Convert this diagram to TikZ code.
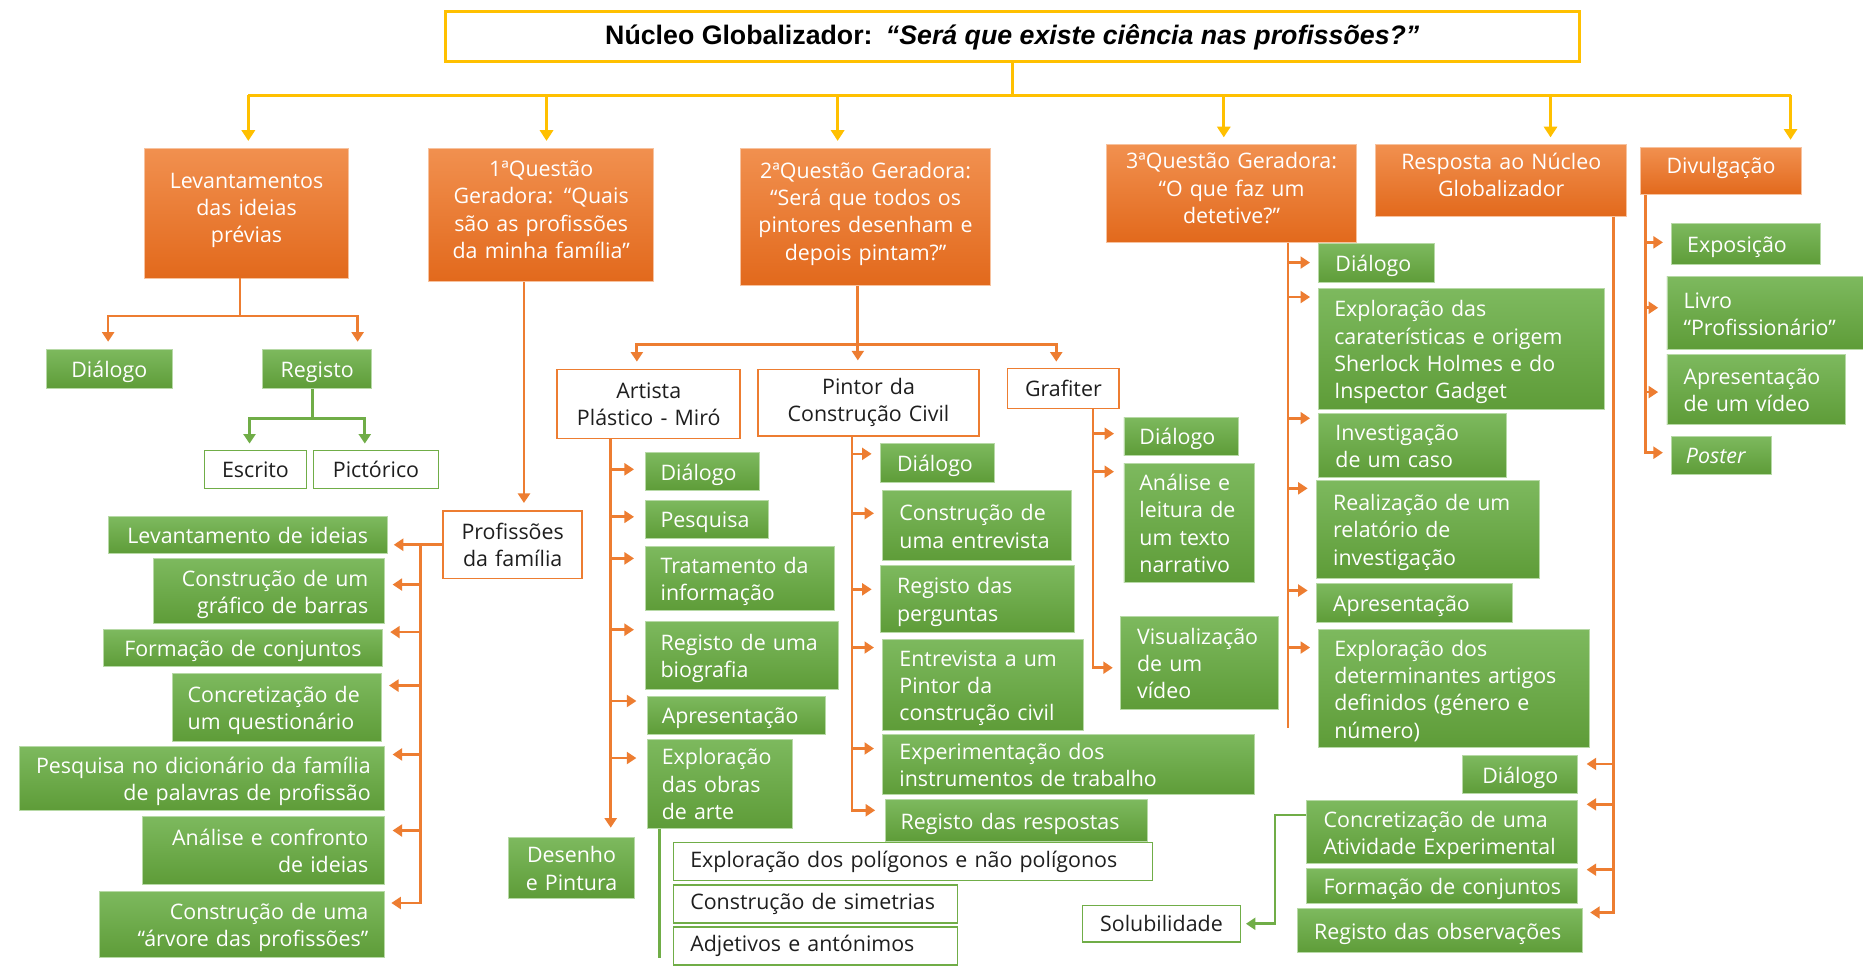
\documentclass[tikz,border=0pt]{standalone}
\usepackage{fontspec}
\setmainfont{Open Sans}
\newfontfamily\titlefont{Liberation Sans}
\usetikzlibrary{arrows.meta,calc}

\definecolor{ocol}{HTML}{ED7D31}
\definecolor{otop}{HTML}{F1904F}
\definecolor{obot}{HTML}{E2691C}
\definecolor{gcol}{HTML}{70AD47}
\definecolor{gtop}{HTML}{7DB95E}
\definecolor{gbot}{HTML}{5E9C38}
\definecolor{ycol}{HTML}{FFC000}
\definecolor{txt}{HTML}{1E1E1E}

\tikzset{
  boxbase/.style={inner ysep=1pt, font=\fontsize{18}{23}\selectfont, line width=0.8pt},
  % struts fixing where the text block sits inside the filled boxes
  lowtext/.style={execute at begin node={\rule{0pt}{19pt}},
                  execute at end node={\rule[-4.5pt]{0pt}{4.5pt}}},
  hightext/.style={execute at begin node={\rule{0pt}{18pt}},
                   execute at end node={\rule[-14pt]{0pt}{14pt}}},
  ob/.style={boxbase, hightext, top color=otop, bottom color=obot, draw=otop!55!white, text=white, align=center},
  gb/.style={boxbase, lowtext, top color=gtop, bottom color=gbot, draw=gtop!55!white, text=white, align=left},
  gbc/.style={gb, align=center},
  gbr/.style={gb, align=right},
  wo/.style={boxbase, fill=white, draw=ocol, line width=1.3pt, text=txt, align=center},
  wg/.style={boxbase, fill=white, draw=gcol, line width=1.3pt, text=txt, align=left},
  wgc/.style={wg, align=center},
  yline/.style={draw=ycol, line width=2.6pt},
  yarr/.style={yline, -{Triangle[length=9pt,width=11pt]}},
  oline/.style={draw=ocol, line width=2.3pt},
  oarr/.style={oline, -{Triangle[length=8pt,width=10pt]}},
  gline/.style={draw=gcol, line width=2.3pt},
  garr/.style={gline, -{Triangle[length=8pt,width=10pt]}},
}

% \bx[padding]{style}{name}{x1}{y1}{x2}{y2}{text}: a box given by its corners
\newcommand\bx[8][14]{%
  \pgfmathsetmacro\bxW{#6-#4}%
  \pgfmathsetmacro\bxH{#7-#5}%
  \pgfmathsetmacro\bxT{#6-#4-2*#1}%
  \pgfmathsetmacro\bxX{(#4+#6)/2}%
  \pgfmathsetmacro\bxY{(#5+#7)/2}%
  \node[#2, inner xsep=#1pt, text width=\bxT pt, minimum width=\bxW pt,
        minimum height=\bxH pt] (#3) at (\bxX,\bxY) {#8};}

\begin{document}
\begin{tikzpicture}[x=1pt, y=-1pt]
\fill[white] (0,0) rectangle (1568,821);
\useasboundingbox (0,0) rectangle (1568,821);

% ---------- title ----------
\node[draw=ycol, line width=2.6pt, fill=white, minimum width=954pt,
      minimum height=42pt, inner sep=0pt, text=black] (title) at (852,31)
  {\titlefont\fontsize{22.5}{26}\selectfont\textbf{Núcleo Globalizador:}\enspace
   \textbf{\textit{“Será que existe ciência nas profissões?”}}};

% ---------- main branches ----------
\bx[8]{ob}{lev}{122}{125}{293}{234}{Levantamentos\\das ideias\\prévias}
\bx[8]{ob}{q1}{361}{125}{550}{237}{1ªQuestão\\Geradora: “Quais\\são as profissões\\da minha família”}
\bx[8]{ob}{q2}{623}{125}{834}{240}{2ªQuestão Geradora:\\“Será que todos os\\pintores desenham e\\depois pintam?”}
\bx[8]{ob}{q3}{931}{122}{1142}{204}{3ªQuestão Geradora:\\“O que faz um\\detetive?”}
\bx[8]{ob}{rnq}{1158}{122}{1369}{182}{Resposta ao Núcleo\\Globalizador}
\bx[8]{ob}{div}{1381}{124}{1516}{164}{Divulgação}

% ---------- prior ideas ----------
\bx[6]{gbc}{lvd}{39}{294}{145}{327}{Diálogo}
\bx[6]{gbc}{lvr}{221}{294}{313}{327}{Registo}
\bx[4]{wgc}{esc}{172}{379}{258}{411}{Escrito}
\bx[4]{wgc}{pic}{264}{379}{369}{411}{Pictórico}

% ---------- first question ----------
\bx[6]{wo}{prf}{373}{430}{490}{487}{Profissões\\da família}
\bx[10]{gbc}{l1}{91}{435}{326}{466}{Levantamento de ideias}
\bx[14]{gbr}{l2}{129}{470}{324}{525}{Construção de um\\gráfico de barras}
\bx[10]{gbc}{l3}{87}{530}{322}{561}{Formação de conjuntos}
\bx[13]{gb}{l4}{145}{567}{321}{624}{Concretização de\\um questionário}
\bx[12]{gbr}{l5}{16}{628}{324}{682}{Pesquisa no dicionário da família\\de palavras de profissão}
\bx[14]{gbr}{l6}{120}{687}{324}{744}{Análise e confronto\\de ideias}
\bx[14]{gbr}{l7}{84}{750}{324}{806}{Construção de uma\\“árvore das profissões”}

% ---------- second question ----------
\bx[6]{wo}{art}{469}{311}{623}{369}{Artista\\Plástico - Miró}
\bx[6]{wo}{pin}{638}{311}{824}{367}{Pintor da\\Construção Civil}
\bx[4]{wo}{gra}{848}{310}{942}{344}{Grafiter}

\bx[13]{gb}{a1}{543}{381}{639}{413}{Diálogo}
\bx[13]{gb}{a2}{543}{421}{647}{453}{Pesquisa}
\bx[13]{gb}{a3}{543}{460}{702}{514}{Tratamento da\\informação}
\bx[13]{gb}{a4}{543}{523}{706}{580}{Registo de uma\\biografia}
\bx[12]{gb}{a5}{545}{586}{695}{618}{Apresentação}
\bx[12]{gb}{a6}{545}{622}{667}{697}{Exploração\\das obras\\de arte}
\bx[6]{gbc}{dp}{428}{705}{534}{756}{Desenho\\e Pintura}
\bx[14]{wg}{w1}{567}{709}{970}{741}{Exploração dos polígonos e não polígonos}
\bx[14]{wg}{w2}{567}{745}{806}{777}{Construção de simetrias}
\bx[14]{wg}{w3}{567}{780}{806}{812}{Adjetivos e antónimos}

\bx[14]{gb}{p1}{741}{373}{837}{406}{Diálogo}
\bx[14]{gb}{p2}{743}{413}{902}{472}{Construção de\\uma entrevista}
\bx[14]{gb}{p3}{741}{476}{904}{532}{Registo das\\perguntas}
\bx[14]{gb}{p4}{743}{538}{912}{615}{Entrevista a um\\Pintor da\\construção civil}
\bx[14]{gb}{p5}{743}{618}{1056}{669}{Experimentação dos\\instrumentos de trabalho}
\bx[13]{gb}{p6}{745}{673}{966}{708}{Registo das respostas}

\bx[13]{gb}{g1}{946}{351}{1042}{383}{Diálogo}
\bx[13]{gb}{g2}{946}{390}{1056}{490}{Análise e\\leitura de\\um texto\\narrativo}
\bx[14]{gb}{g3}{943}{519}{1076}{597}{Visualização\\de um\\vídeo}

% ---------- third question ----------
\bx[14]{gb}{t1}{1110}{205}{1207}{238}{Diálogo}
\bx[13]{gb}{t2}{1110}{243}{1350}{345}{Exploração das\\caraterísticas e origem\\Sherlock Holmes e do\\Inspector Gadget}
\bx[14]{gb}{t3}{1110}{348}{1268}{402}{Investigação\\de um caso}
\bx[14]{gb}{t4}{1108}{404}{1296}{487}{Realização de um\\relatório de\\investigação}
\bx[14]{gb}{t5}{1108}{491}{1273}{524}{Apresentação}
\bx[13]{gb}{t6}{1110}{530}{1338}{629}{Exploração dos\\determinantes artigos\\definidos (género e\\número)}

% ---------- answer to the core question ----------
\bx[6]{gbc}{r1}{1231}{636}{1328}{668}{Diálogo}
\bx[14]{gb}{r2}{1100}{674}{1328}{727}{Concretização de uma\\Atividade Experimental}
\bx[14]{gb}{r3}{1100}{731}{1328}{760}{Formação de conjuntos}
\bx[14]{gb}{r4}{1092}{765}{1332}{802}{Registo das observações}
\bx[6]{wgc}{sol}{911}{762}{1044}{793}{Solubilidade}

% ---------- dissemination ----------
\bx[13]{gb}{v1}{1407}{188}{1532}{223}{Exposição}
\bx[14]{gb}{v2}{1403}{233}{1572}{294}{Livro\\“Profissionário”}
\bx[14]{gb}{v3}{1403}{298}{1553}{357}{Apresentação\\de um vídeo}
\bx[12]{gb}{v4}{1407}{367}{1491}{399}{\textit{Poster}}

% ---------- yellow distribution bus ----------
\coordinate (b1) at (209,80);
\coordinate (b2) at (460,80);
\coordinate (b3) at (705,80);
\coordinate (b4) at (1030,80);
\coordinate (b5) at (1305,80);
\coordinate (b6) at (1507,80);
\draw[yline] (title.south) -- (title.south |- b1);
\draw[yline] (b1) -- (b6);
\foreach \b/\n in {b1/lev,b2/q1,b3/q2,b4/q3,b5/rnq,b6/div}
  \draw[yarr] (\b) -- ($(\b |- \n.north)+(0,-6)$);

% ---------- prior ideas tree ----------
\coordinate (lj) at (202,266);
\draw[oline] (lev.south -| lj) -- (lj);
\draw[oarr] (lj) -| ($(lvd.north -| 91,0)+(0,-6)$);
\draw[oarr] (lj) -| ($(lvr.north -| 301,0)+(0,-6)$);
\coordinate (rj) at (263,352);
\draw[gline] (lvr.south -| rj) -- (rj);
\draw[garr] (rj) -| ($(esc.north -| 210,0)+(0,-5)$);
\draw[garr] (rj) -| ($(pic.north -| 307,0)+(0,-5)$);

% ---------- first question tree ----------
\draw[oarr] (q1.south -| 441,0) -- ($(prf.north -| 441,0)+(0,-6)$);
\coordinate (pj) at (354,0);
\draw[oarr] (prf.west) -- ($(l1.east |- prf.west)+(5,0)$);
\draw[oarr] (prf.west -| pj) |- ($(l7.east |- 0,760)+(5,0)$);
\foreach \n/\y in {l2/492,l3/532,l4/577,l5/635,l6/699}
  \draw[oarr] (pj |- 0,\y) -- ($(\n.east |- 0,\y)+(6,0)$);

% ---------- second question tree ----------
\coordinate (qj) at (722,290);
\draw[oline] (q2.south -| qj) -- (qj);
\draw[oarr] (qj) -| ($(art.north -| 536,0)+(0,-6)$);
\draw[oarr] (qj) -- ($(qj |- pin.north)+(0,-7)$);
\draw[oarr] (qj) -| ($(gra.north -| 889,0)+(0,-5)$);

\coordinate (sa) at (514,0);
\draw[oarr] (art.south -| sa) -- ($(dp.north -| sa)+(0,-8)$);
\foreach \n/\y in {a1/395,a2/435,a3/470,a4/530,a5/590,a6/638}
  \draw[oarr] (sa |- 0,\y) -- ($(\n.west |- 0,\y)+(-9,0)$);
\coordinate (ge) at (555,806);
\draw[gline] (a6.south -| ge) -- (ge);

\coordinate (sp) at (717,0);
\draw[oarr] (pin.south -| sp) |- ($(p6.west |- 0,682)+(-8,0)$);
\foreach \n/\y in {p1/382,p2/432,p3/496,p4/545,p5/630}
  \draw[oarr] (sp |- 0,\y) -- ($(\n.west |- 0,\y)+(-7,0)$);

\coordinate (sg) at (920,0);
\draw[oarr] (gra.south -| sg) |- ($(g3.west |- 0,562)+(-6,0)$);
\foreach \n/\y in {g1/365,g2/397}
  \draw[oarr] (sg |- 0,\y) -- ($(\n.west |- 0,\y)+(-8,0)$);

% ---------- third question tree ----------
\coordinate (st) at (1084,613);
\draw[oline] (q3.south -| st) -- (st);
\foreach \n/\y in {t1/221,t2/250,t3/352,t4/411,t5/497,t6/545}
  \draw[oarr] (st |- 0,\y) -- ($(\n.west |- 0,\y)+(-7,0)$);

% ---------- answer tree ----------
\coordinate (sr) at (1358,0);
\draw[oarr] (rnq.south -| sr) |- ($(r4.east |- 0,768)+(6,0)$);
\foreach \n/\y in {r1/643,r2/677,r3/732}
  \draw[oarr] (sr |- 0,\y) -- ($(\n.east |- 0,\y)+(7,0)$);
\coordinate (sj) at (1073,686);
\draw[garr] (r2.west |- sj) -- (sj) |- ($(sol.east)+(4,0)$);

% ---------- dissemination tree ----------
\coordinate (sd) at (1385,0);
\draw[oarr] (div.south -| sd) |- ($(v4.west |- 0,381)+(-7,0)$);
\foreach \n/\y in {v1/204,v2/259,v3/330}
  \draw[oarr] (sd |- 0,\y) -- ($(\n.west |- 0,\y)+(-7,0)$);

\end{tikzpicture}
\end{document}
